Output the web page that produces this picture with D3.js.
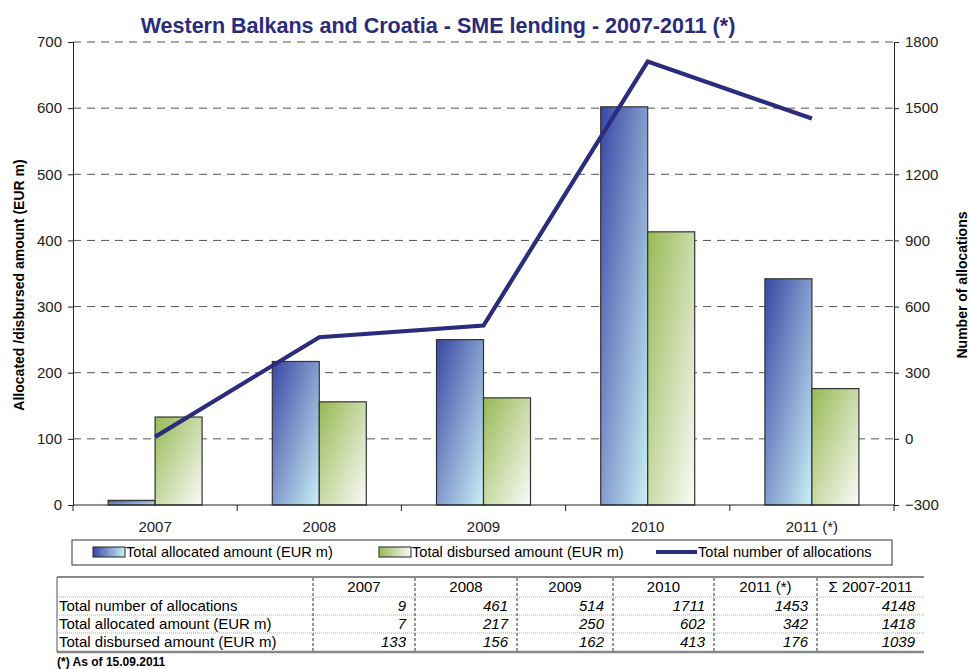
<!DOCTYPE html>
<html>
<head>
<meta charset="utf-8">
<script src="https://cdn.jsdelivr.net/npm/d3@7"></script>
<style>
  body { margin: 0; background: #fff; }
  svg { font-family: "Liberation Sans", Arial, sans-serif; }
</style>
</head>
<body>
<svg width="970" height="669"></svg>
<script>
// data
const years = ['2007', '2008', '2009', '2010', '2011 (*)'];
const allocated = [7, 217, 250, 602, 342];
const disbursed = [133, 156, 162, 413, 176];
const allocations = [9, 461, 514, 1711, 1453];
const leftTicks = [0, 100, 200, 300, 400, 500, 600, 700];
const rightTicks = [-300, 0, 300, 600, 900, 1200, 1500, 1800];
const tableHead = ['2007', '2008', '2009', '2010', '2011 (*)', 'Σ 2007-2011'];
const tableRows = ['Total number of allocations', 'Total allocated amount (EUR m)', 'Total disbursed amount (EUR m)'];
const tableTotals = [4148, 1418, 1039];

const svg = d3.select('svg');
const pLeft = 73, pRight = 894, pTop = 42, pBottom = 505;

const defs = svg.append('defs');
function grad(id, c0, c1, horiz) {
  const g = defs.append('linearGradient').attr('id', id)
    .attr('x1', 0).attr('y1', 0).attr('x2', 1).attr('y2', horiz ? 0 : 1);
  g.append('stop').attr('offset', '0%').attr('stop-color', c0);
  g.append('stop').attr('offset', '100%').attr('stop-color', c1);
}
grad('gBlue', '#3947a3', '#c9f0f6');
grad('gGreen', '#97b955', '#fbfbf9');
grad('lBlue', '#3947a3', '#c9f0f6', true);
grad('lGreen', '#97b955', '#fbfbf9', true);

// scales
const x0 = d3.scaleBand().domain(years).range([pLeft, pRight]);
const x1 = d3.scaleBand().domain(['a', 'd']).range([0, x0.bandwidth()]).paddingOuter(0.747);
const yL = d3.scaleLinear().domain([0, 700]).range([pBottom, pTop]);
const yR = d3.scaleLinear().domain([-300, 1800]).range([pBottom, pTop]);

// title
svg.append('text')
  .attr('x', 438).attr('y', 33)
  .attr('text-anchor', 'middle')
  .style('font-size', '21.5px').style('font-weight', 'bold')
  .attr('fill', '#2b2b7b')
  .text('Western Balkans and Croatia - SME lending - 2007-2011 (*)');

// grid
svg.append('g').selectAll('line')
  .data(leftTicks.filter(d => d > 0))
  .enter().append('line')
  .attr('x1', pLeft).attr('x2', pRight)
  .attr('y1', d => yL(d)).attr('y2', d => yL(d))
  .attr('stroke', '#555').attr('stroke-width', 1)
  .attr('stroke-dasharray', '8,6');

// bars
const grp = svg.append('g').selectAll('g')
  .data(years).enter().append('g')
  .attr('transform', d => `translate(${x0(d)},0)`);
grp.append('rect')
  .attr('x', x1('a')).attr('width', x1.bandwidth())
  .attr('y', (d, i) => yL(allocated[i]))
  .attr('height', (d, i) => pBottom - yL(allocated[i]))
  .attr('fill', 'url(#gBlue)').attr('stroke', '#333').attr('stroke-width', 1.2);
grp.append('rect')
  .attr('x', x1('d')).attr('width', x1.bandwidth())
  .attr('y', (d, i) => yL(disbursed[i]))
  .attr('height', (d, i) => pBottom - yL(disbursed[i]))
  .attr('fill', 'url(#gGreen)').attr('stroke', '#333').attr('stroke-width', 1.2);

// axes
const axL = svg.append('g').attr('transform', `translate(${pLeft},0)`)
  .call(d3.axisLeft(yL).tickValues(leftTicks).tickSize(5).tickPadding(6));
const axR = svg.append('g').attr('transform', `translate(${pRight},0)`)
  .call(d3.axisRight(yR).tickValues(rightTicks).tickSize(5).tickPadding(6).tickFormat(d3.format('d')));
const axB = svg.append('g').attr('transform', `translate(0,${pBottom})`)
  .call(d3.axisBottom(x0).tickSize(0).tickPadding(16));
[axL, axR, axB].forEach(a => {
  a.selectAll('text').style('font-size', '15px').attr('fill', '#222');
  a.selectAll('path,line').attr('stroke', '#222');
});
axB.select('.domain').attr('d', `M${pLeft},0H${pRight}`);
axB.selectAll('.bnd').data(years.concat(['end'])).enter().append('line')
  .attr('x1', d => d === 'end' ? pRight : x0(d)).attr('x2', d => d === 'end' ? pRight : x0(d))
  .attr('y1', 0).attr('y2', 6).attr('stroke', '#222');

// axis titles
svg.append('text')
  .attr('transform', 'translate(24,285) rotate(-90)')
  .attr('text-anchor', 'middle')
  .style('font-size', '14px').style('font-weight', 'bold')
  .text('Allocated /disbursed amount (EUR m)');
svg.append('text')
  .attr('transform', 'translate(967,285) rotate(-90)')
  .attr('text-anchor', 'middle')
  .style('font-size', '14px').style('font-weight', 'bold')
  .text('Number of allocations');

// line
const line = d3.line()
  .x((d, i) => x0(years[i]) + x0.bandwidth() / 2)
  .y(d => yR(d));
svg.append('path').datum(allocations)
  .attr('d', line)
  .attr('fill', 'none').attr('stroke', '#2a2c7c').attr('stroke-width', 4.2);

// legend
const lg = svg.append('g');
lg.append('rect').attr('x', 72).attr('y', 540).attr('width', 820).attr('height', 25)
  .attr('fill', '#fff').attr('stroke', '#333');
lg.append('rect').attr('x', 93).attr('y', 547).attr('width', 32).attr('height', 10)
  .attr('fill', 'url(#lBlue)').attr('stroke', '#222');
lg.append('text').attr('x', 126).attr('y', 557).style('font-size', '14.6px')
  .text('Total allocated amount (EUR m)');
lg.append('rect').attr('x', 379).attr('y', 547).attr('width', 32).attr('height', 10)
  .attr('fill', 'url(#lGreen)').attr('stroke', '#222');
lg.append('text').attr('x', 412).attr('y', 557).style('font-size', '14.6px')
  .text('Total disbursed amount (EUR m)');
lg.append('line').attr('x1', 656).attr('x2', 697).attr('y1', 552).attr('y2', 552)
  .attr('stroke', '#2a2c7c').attr('stroke-width', 4);
lg.append('text').attr('x', 698).attr('y', 557).style('font-size', '14.6px')
  .text('Total number of allocations');

// table
const cols = [57, 313, 415, 517, 613, 714, 817, 924];
const rowY = [577, 597, 615, 633, 652];
const tb = svg.append('g');
rowY.slice(1, 4).forEach(y => tb.append('line')
  .attr('x1', cols[0]).attr('x2', cols[7]).attr('y1', y).attr('y2', y)
  .attr('stroke', '#aaa').attr('stroke-dasharray', '1,1'));
tb.append('line').attr('x1', cols[0]).attr('x2', cols[7]).attr('y1', 577).attr('y2', 577)
  .attr('stroke', '#888').attr('stroke-width', 2);
tb.append('line').attr('x1', cols[0]).attr('x2', cols[7]).attr('y1', 652).attr('y2', 652)
  .attr('stroke', '#888').attr('stroke-width', 2.5);
tb.append('line').attr('x1', cols[0]).attr('x2', cols[0]).attr('y1', 577).attr('y2', 652)
  .attr('stroke', '#555');
cols.slice(1, 7).forEach(x => tb.append('line')
  .attr('x1', x).attr('x2', x).attr('y1', 578).attr('y2', 651)
  .attr('stroke', '#333').attr('stroke-dasharray', '3,2'));
tableHead.forEach((h, j) => tb.append('text')
  .attr('x', (cols[j + 1] + cols[j + 2]) / 2).attr('y', 592)
  .attr('text-anchor', 'middle').style('font-size', '15px').text(h));
const tableData = [allocations, allocated, disbursed];
tableRows.forEach((r, i) => {
  tb.append('text').attr('x', 59).attr('y', rowY[i + 1] + 14)
    .style('font-size', '15px').text(r);
  tableData[i].concat([tableTotals[i]]).forEach((v, j) => tb.append('text')
    .attr('x', cols[j + 2] - 9).attr('y', rowY[i + 1] + 14)
    .attr('text-anchor', 'end').style('font-size', '15px').style('font-style', 'italic')
    .text(v));
});
svg.append('text').attr('x', 57).attr('y', 666)
  .style('font-size', '12px').style('font-weight', 'bold')
  .text('(*) As of 15.09.2011');
</script>
</body>
</html>
